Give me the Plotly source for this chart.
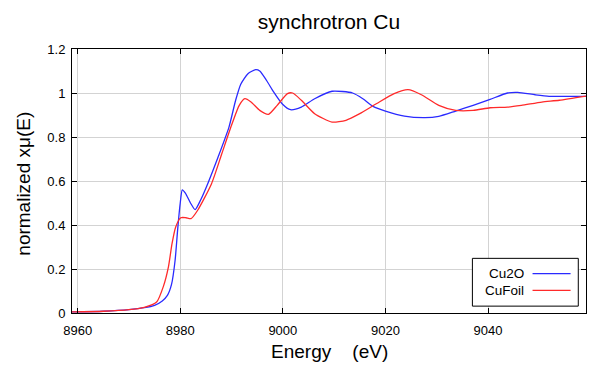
import plotly.graph_objects as go

# Cu2O (blue)
cu2o_E = [8958.9, 8965, 8970, 8973, 8975, 8976.5, 8977.5, 8978.3, 8979.0, 8979.5, 8980.0, 8980.4, 8981.0,
          8982.0, 8982.9, 8984.0, 8985.4, 8987.4, 8989.5, 8990.8, 8991.8, 8993.2, 8994.7, 8995.5, 8996.8,
          8998.2, 8999.9, 9001.5, 9003.6, 9006.2, 9009.6, 9013.6, 9015.6, 9017.6, 9020.0, 9023.7, 9027.7,
          9030.4, 9033.7, 9037.1, 9040.4, 9043.8, 9045.8, 9049.2, 9051.9, 9055.9, 9059.1]
cu2o_mu = [0.005, 0.008, 0.015, 0.024, 0.035, 0.055, 0.08, 0.13, 0.24, 0.38, 0.5, 0.56, 0.545,
           0.5, 0.47, 0.515, 0.59, 0.71, 0.845, 0.967, 1.04, 1.088, 1.106, 1.10, 1.058,
           1.005, 0.95, 0.924, 0.936, 0.974, 1.008, 1.0, 0.974, 0.939, 0.918, 0.895, 0.888,
           0.894, 0.918, 0.944, 0.971, 1.0, 1.003, 0.992, 0.985, 0.985, 0.985]

# CuFoil (red)
cufoil_E = [8958.9, 8965, 8970, 8973, 8975.4, 8976.7, 8977.7, 8978.4, 8979.1, 8980.1, 8981.1, 8982.1,
            8983.4, 8986.1, 8988.1, 8990.1, 8991.5, 8992.6, 8993.8, 8995.5, 8997.2, 8998.9, 9000.9,
            9001.9, 9003.6, 9006.2, 9009.6, 9012.3, 9015.0, 9018.3, 9021.7, 9024.4, 9027.0, 9030.4,
            9033.7, 9037.1, 9040.4, 9043.8, 9046.5, 9050.5, 9053.9, 9059.1]
cufoil_mu = [0.005, 0.008, 0.015, 0.026, 0.05, 0.12, 0.21, 0.315, 0.39, 0.433, 0.433, 0.429,
             0.467, 0.588, 0.724, 0.86, 0.944, 0.974, 0.959, 0.921, 0.903, 0.944, 0.997,
             1.0, 0.967, 0.906, 0.868, 0.876, 0.906, 0.952, 0.997, 1.015, 0.992, 0.944,
             0.921, 0.921, 0.933, 0.936, 0.944, 0.959, 0.967, 0.986]

x_ticks = [8960, 8980, 9000, 9020, 9040]
y_ticks = [0, 0.2, 0.4, 0.6, 0.8, 1.0, 1.2]
y_tick_text = ["0", "0.2", "0.4", "0.6", "0.8", "1", "1.2"]

series = [("Cu2O", cu2o_E, cu2o_mu, "#2a2aff"), ("CuFoil", cufoil_E, cufoil_mu, "#ff2a2a")]

fig = go.Figure()
for name, xs, ys, col in series:
    fig.add_trace(go.Scatter(x=xs, y=ys, mode="lines", name=name,
                             line=dict(color=col, width=1.3, shape="spline", smoothing=0.6),
                             showlegend=False))

font_family = "Liberation Sans, Arial, sans-serif"

axis_common = dict(showline=True, linecolor="black", linewidth=1, mirror="ticks",
                   ticks="inside", ticklen=5, tickcolor="black", tickwidth=1,
                   showgrid=True, gridcolor="#d3d3d3", gridwidth=1, zeroline=False,
                   tickfont=dict(size=13, color="black", family=font_family))

fig.update_xaxes(range=[8958.9, 9059.1], tickvals=x_ticks, ticklabelstandoff=5, **axis_common)
fig.update_yaxes(range=[0, 1.2], tickvals=y_ticks, ticktext=y_tick_text, ticklabelstandoff=3, **axis_common)

# axis titles
fig.add_annotation(xref="paper", yref="paper", x=0.501, y=-0.1466, showarrow=False,
                   text="Energy\u00a0\u00a0\u00a0\u00a0(eV)", xanchor="center", yanchor="middle",
                   font=dict(size=19, color="black", family=font_family))
fig.add_annotation(xref="paper", yref="paper", x=-0.095, y=0.4905, showarrow=False,
                   text="normalized xμ(E)", textangle=-90, xanchor="center", yanchor="middle",
                   font=dict(size=19, color="black", family=font_family))

# legend box drawn to match reference layout (text left, line right)
fig.add_shape(type="rect", xref="paper", yref="paper", x0=0.779, x1=0.985, y0=0.026, y1=0.207,
              line=dict(color="black", width=1), fillcolor="white", layer="above")
leg_y = [0.149, 0.086]
for (name, xs, ys, col), ly in zip(series, leg_y):
    fig.add_annotation(xref="paper", yref="paper", x=0.884, y=ly, text=name, showarrow=False,
                       xanchor="right", yanchor="middle",
                       font=dict(size=13.5, color="black", family=font_family))
    fig.add_shape(type="line", xref="paper", yref="paper", x0=0.896, x1=0.970, y0=ly, y1=ly,
                  line=dict(color=col, width=1.3), layer="above")

# page body has an 8px margin: figure is sized/offset to keep plot area at the reference position
fig.update_layout(
    width=601, height=360,
    margin=dict(l=64, r=23, t=41, b=55),
    paper_bgcolor="white", plot_bgcolor="white",
    title=dict(text="synchrotron Cu", x=0.5, xref="paper", xanchor="center",
               y=1 - 14 / 360, yref="container", yanchor="middle",
               font=dict(size=21, color="black", family=font_family)),
    showlegend=False,
)

fig.write_html("out.html")
